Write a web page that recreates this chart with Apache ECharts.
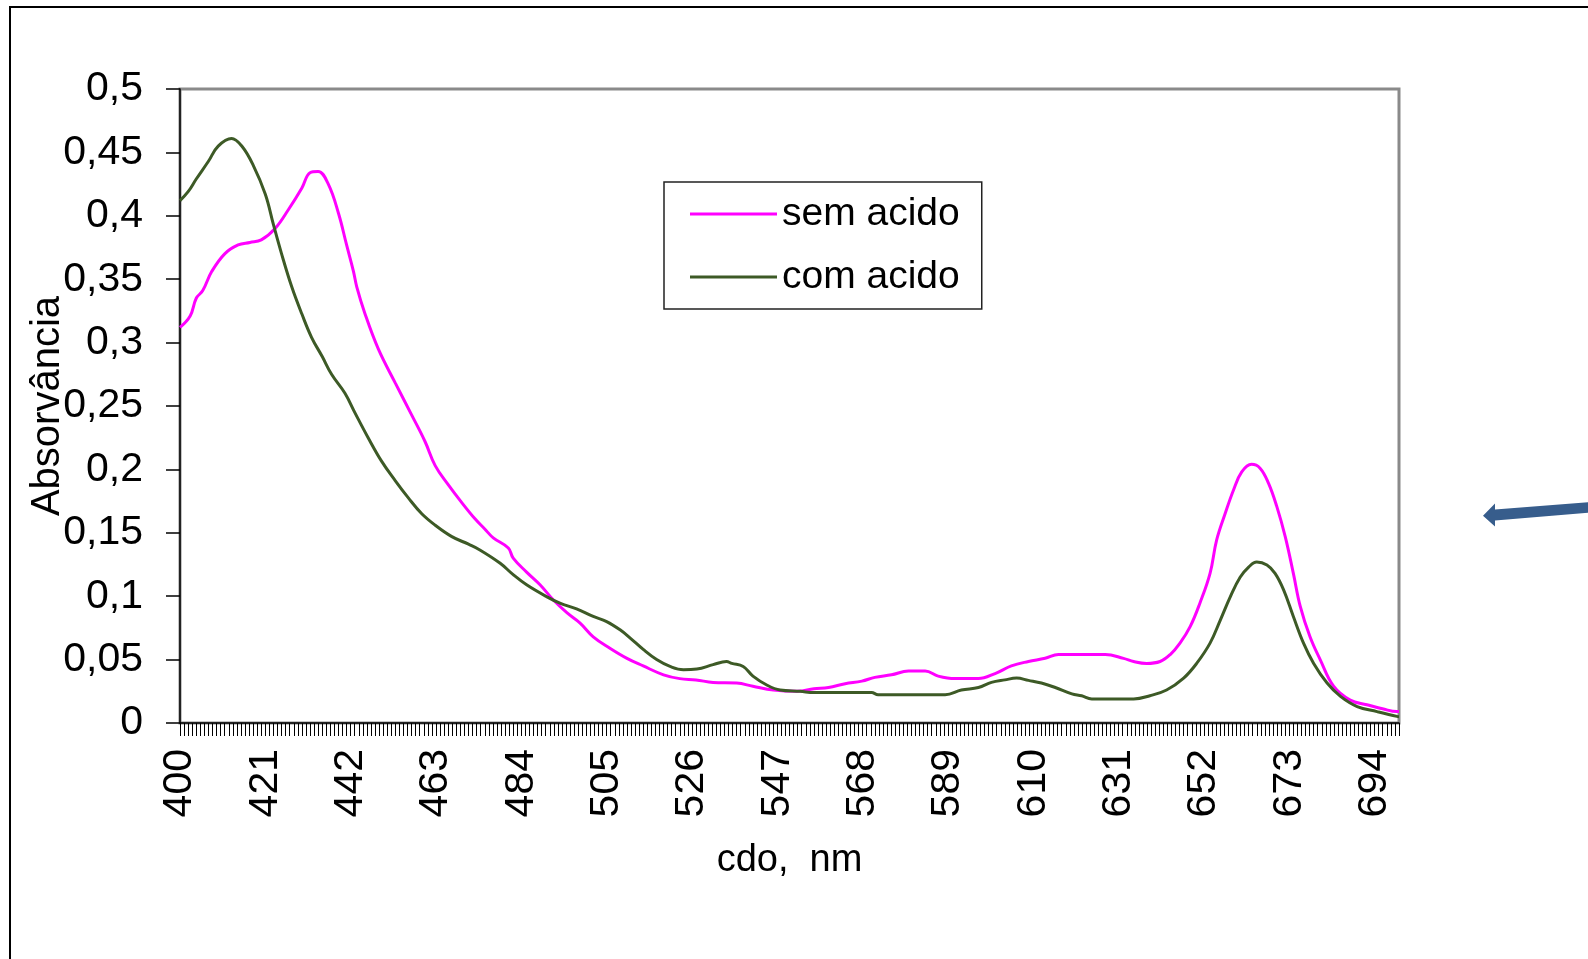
<!DOCTYPE html>
<html>
<head>
<meta charset="utf-8">
<script src="https://cdn.jsdelivr.net/npm/echarts@6/dist/echarts.min.js"></script>
<style>
html,body{margin:0;padding:0;background:#fff;}
#chart{width:1588px;height:959px;}
</style>
</head>
<body>
<div id="chart"></div>
<script>
// Wavelength (nm) and absorbance
const semNm  = [400,402.5,404,405.6,407.8,411,414.3,417.2,420,423.4,426.7,430,432,434,436.5,439,441,442.7,443.5,445.5,448.8,453,457,460.3,462.8,466,469.3,472.6,475,477.1,480.8,482,485.3,488.6,491.9,495.2,498.4,501.7,505.8,510,514,519,523,527,531.2,537,541,546,552,556,559.6,563.7,567.8,571,575.1,579.3,583.4,586.6,590.7,596.5,600.6,604.6,608.8,612.9,616.2,621,627.7,632.2,634.7,637.9,641.2,643.7,646.1,648.6,651,653.5,655.1,657.2,659.3,661.3,663.7,665.8,667.9,669.9,672,674,675.7,678.1,680.6,683.9,688,692.1,696.2,699.5,700];
const semVal = [0.312,0.321,0.335,0.341,0.356,0.370,0.377,0.379,0.381,0.390,0.405,0.422,0.434,0.435,0.425,0.402,0.377,0.356,0.344,0.323,0.295,0.268,0.243,0.222,0.203,0.188,0.174,0.161,0.153,0.146,0.138,0.130,0.119,0.109,0.097,0.087,0.079,0.068,0.059,0.051,0.045,0.038,0.035,0.034,0.032,0.0315,0.029,0.026,0.025,0.027,0.028,0.031,0.033,0.036,0.038,0.041,0.041,0.037,0.035,0.035,0.039,0.045,0.0485,0.051,0.054,0.054,0.054,0.051,0.0485,0.047,0.0485,0.054,0.063,0.076,0.0945,0.118,0.144,0.165,0.184,0.198,0.204,0.201,0.189,0.171,0.147,0.118,0.092,0.068,0.050,0.029,0.018,0.0144,0.011,0.009,0.009];
const comNm  = [400,402,404,407,409.4,412.7,415.2,418,421,423,425,427.5,430,432.4,435,437.3,440.6,443,446.3,449.6,453,456.2,459.5,462.8,466.9,471,473.8,478.8,482,485.3,490.2,493.5,497.6,501.7,505,508.3,510.8,514,517.3,520.6,523.9,527.2,531.2,534.5,535.8,538.6,541,544.4,547.7,552.6,556,570.2,571.8,588.3,592.3,596.5,599.7,603,605.9,608.8,612,615.4,619.5,621.9,624.4,634.7,638.7,642.8,647,650.2,653.5,656,658.5,660.9,663,665,667.5,669.5,671.6,674,676.5,679,682.3,685.6,689.7,694.6,699.5,700];
const comVal = [0.412,0.419,0.429,0.443,0.455,0.461,0.455,0.440,0.417,0.393,0.370,0.344,0.3225,0.304,0.289,0.275,0.260,0.245,0.225,0.2065,0.191,0.1775,0.165,0.156,0.147,0.141,0.1365,0.126,0.117,0.109,0.0997,0.0945,0.090,0.084,0.080,0.0735,0.067,0.058,0.050,0.0446,0.042,0.0425,0.046,0.0485,0.047,0.0446,0.037,0.030,0.026,0.025,0.024,0.024,0.0223,0.0223,0.026,0.028,0.032,0.034,0.0354,0.0336,0.0315,0.028,0.023,0.0215,0.019,0.019,0.0215,0.026,0.0354,0.047,0.063,0.081,0.0997,0.115,0.123,0.127,0.1246,0.118,0.105,0.084,0.063,0.047,0.0315,0.021,0.013,0.009,0.0052,0.005];

const seriesNames = ['sem acido', 'com acido'];
const xMin = 400, xMax = 700, xLabelStep = 21;
const yMin = 0, yMax = 0.5, yStep = 0.05;
const FONT = "'Liberation Sans', Arial, sans-serif";

const pairs = (xs, ys) => xs.map((x, i) => [x, ys[i]]);

const chart = echarts.init(document.getElementById('chart'), null, {renderer: 'canvas'});
chart.setOption({
  backgroundColor: '#fff',
  animation: false,
  textStyle: {fontFamily: FONT},
  grid: {
    left: 180, top: 89, right: 189, bottom: 236,
    show: true, borderColor: '#8a8a8a', borderWidth: 3, backgroundColor: 'transparent'
  },
  legend: {
    orient: 'vertical',
    left: 664, top: 182,
    padding: [12, 22, 12, 26],
    itemGap: 23,
    itemWidth: 87, itemHeight: 3,
    itemTextGap: 8,
    icon: 'rect',
    borderColor: '#222', borderWidth: 1.5,
    textStyle: {fontFamily: FONT, fontSize: 39, color: '#000', lineHeight: 40},
    data: seriesNames
  },
  xAxis: {
    type: 'value',
    min: xMin, max: xMax, interval: 1,
    name: 'cdo,  nm',
    nameLocation: 'middle',
    nameGap: 119,
    nameTextStyle: {fontFamily: FONT, fontSize: 38, color: '#000'},
    splitLine: {show: false},
    axisLine: {show: true, onZero: false, lineStyle: {color: '#000', width: 1.5}},
    axisTick: {show: true, length: 13, lineStyle: {color: '#000', width: 1}},
    axisLabel: {
      rotate: 90, margin: 26,
      fontFamily: FONT, fontSize: 41, color: '#000',
      formatter: v => ((v - xMin) % xLabelStep === 0 ? String(v) : '')
    }
  },
  yAxis: {
    type: 'value',
    min: yMin, max: yMax, interval: yStep,
    name: 'Absorvância',
    nameLocation: 'middle',
    nameGap: 112,
    nameMoveOverlap: false,
    nameTextStyle: {fontFamily: FONT, fontSize: 40, color: '#000'},
    splitLine: {show: false},
    axisLine: {show: true, lineStyle: {color: '#000', width: 1.5}},
    axisTick: {show: true, length: 14, lineStyle: {color: '#000', width: 1.5}},
    axisLabel: {
      margin: 37,
      fontFamily: FONT, fontSize: 41, color: '#000',
      formatter: v => String(+v.toFixed(2)).replace('.', ',')
    }
  },
  series: [
    {
      name: seriesNames[0], type: 'line',
      data: pairs(semNm, semVal),
      showSymbol: false, symbol: 'none',
      smooth: 0.4,
      color: '#ff00ff',
      lineStyle: {color: '#ff00ff', width: 3}
    },
    {
      name: seriesNames[1], type: 'line',
      data: pairs(comNm, comVal),
      showSymbol: false, symbol: 'none',
      smooth: 0.4,
      color: '#3d5a26',
      lineStyle: {color: '#3d5a26', width: 3}
    }
  ],
  graphic: [
    {
      type: 'rect', silent: true,
      shape: {x: 10, y: 7, width: 1700, height: 1100},
      style: {fill: 'none', stroke: '#000', lineWidth: 2}
    },
    {
      type: 'polygon', silent: true,
      shape: {points: [[1483,515.7],[1495,503.5],[1495,509.5],[1590,502],[1590,512.5],[1495,520.5],[1495,526.5]]},
      style: {fill: '#375d8c'}
    }
  ]
});
</script>
</body>
</html>
